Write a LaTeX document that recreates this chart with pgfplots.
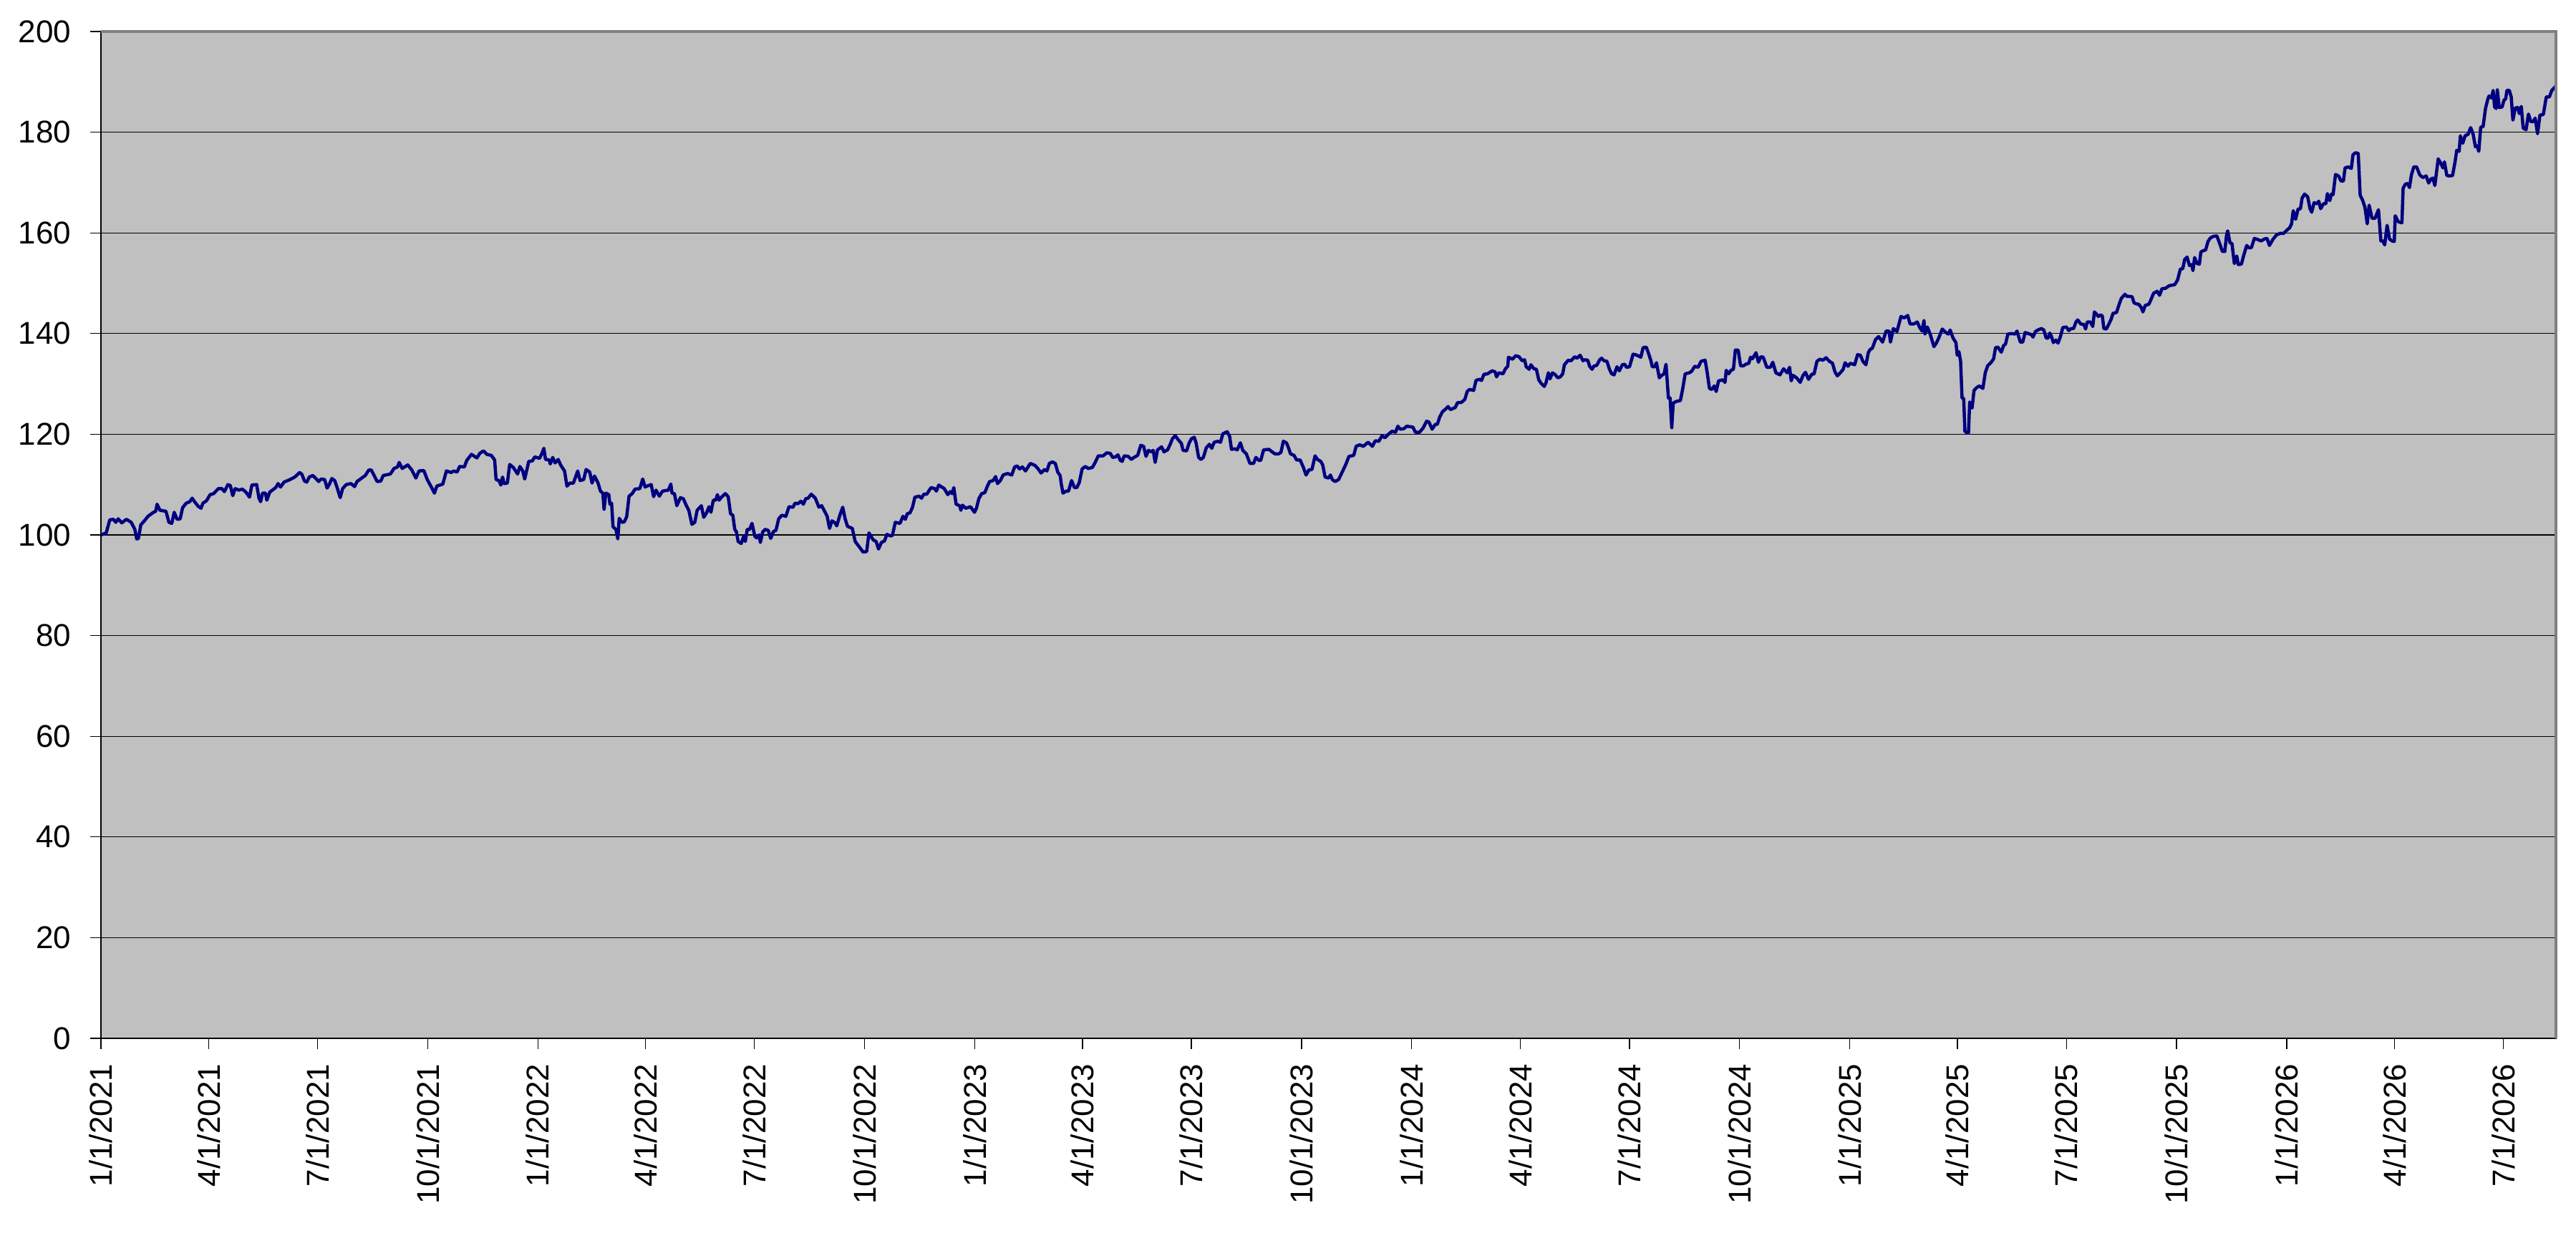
\documentclass[border=0pt]{standalone}
\usepackage{fontspec}
\setmainfont{Liberation Sans}
\usepackage{pgfplots}
\pgfplotsset{compat=1.18}
\definecolor{bgc}{HTML}{C0C0C0}
\definecolor{navyline}{HTML}{000080}
\definecolor{bordergray}{HTML}{808080}
\begin{document}
\begin{tikzpicture}
\begin{axis}[
  name=ax,
  scale only axis,
  width=685.8pt, height=281.2pt,
  xmin=0, xmax=2051, ymin=0, ymax=200,
  clip=false,
  axis background/.style={fill=bgc},
  axis line style={black, line width=0.3pt},
  ymajorgrids,
  grid style={black, line width=0.25pt},
  tick align=outside,
  major tick length=3pt,
  tick style={black, line width=0.25pt},
  xtick pos=left, ytick pos=left,
  ytick={0,20,...,200},
  xtick={0,90,181,273,365,455,546,638,730,820,911,1003,1095,1186,1277,1369,1461,1551,1642,1734,1826,1916,2007},
  xticklabels={1/1/2021,4/1/2021,7/1/2021,10/1/2021,1/1/2022,4/1/2022,7/1/2022,10/1/2022,1/1/2023,4/1/2023,7/1/2023,10/1/2023,1/1/2024,4/1/2024,7/1/2024,10/1/2024,1/1/2025,4/1/2025,7/1/2025,10/1/2025,1/1/2026,4/1/2026,7/1/2026},
  /pgf/number format/assume math mode=true,
  ticklabel style={font=\fontsize{8.8}{10}\selectfont, inner sep=0pt},
  xticklabel style={yshift=-4pt, rotate=90, anchor=east},
  yticklabel style={xshift=-5.2pt, anchor=east},
]
\addplot[navyline, line width=0.9pt, line join=round, mark=none] table[x=x, y=y] {
x y
0 100.0
4.4 100.4
7.4 103.0
10.4 103.1
12.4 102.5
14.4 103.2
17.4 102.4
21.3 103.1
25.3 102.5
28.3 101.1
29.9 99.2
31.3 99.3
33.3 102.0
36.3 102.8
39.3 103.7
43.3 104.4
45.7 104.7
46.9 106.1
49.3 104.9
54.3 104.7
56.8 102.5
59.2 102.3
61.2 104.5
63.6 103.1
66.2 103.2
68.2 105.4
71.2 106.3
74.2 106.6
76.2 107.3
78.2 106.6
81.2 105.7
83.6 105.3
85.2 106.3
88.2 106.8
91.2 108.0
94.1 108.2
98.1 109.2
101.1 109.2
103.1 108.6
106.1 110.0
108.1 109.8
110.1 107.8
112.1 109.2
115.1 108.9
118.1 109.1
121.1 108.5
124.1 107.5
126.1 109.9
130.1 110.0
132.0 107.3
133.4 106.6
135.0 108.3
137.4 108.3
138.6 106.9
141.0 108.5
146.0 109.4
148.0 110.2
150.0 109.5
153.0 110.5
158.0 111.0
162.0 111.5
166.0 112.4
168.0 112.0
170.0 110.7
172.0 110.5
174.0 111.5
177.0 111.8
180.0 111.1
181.9 110.6
183.9 111.1
186.9 111.0
188.9 109.3
190.9 110.1
192.9 111.2
195.3 110.8
197.3 109.4
199.9 107.4
201.9 109.2
204.9 110.0
208.9 110.2
211.9 109.6
213.9 110.6
217.9 111.3
220.8 111.8
223.8 112.9
225.8 112.9
227.8 112.0
230.8 110.6
233.8 110.7
235.8 111.8
241.8 112.1
244.8 113.2
247.8 113.5
249.1 114.4
251.7 113.2
256.3 113.9
259.7 112.9
263.1 111.3
265.7 112.7
269.7 112.8
272.6 111.0
275.6 109.7
278.6 108.3
280.6 109.7
285.6 110.1
288.6 112.7
292.6 112.4
294.6 112.7
297.6 112.5
299.6 113.6
303.6 113.5
305.6 114.8
309.5 116.0
314.1 115.3
316.5 116.2
319.5 116.7
322.5 116.0
326.1 115.8
328.9 114.9
330.1 111.0
332.5 110.8
334.1 109.9
335.5 111.5
336.9 110.2
339.5 110.3
341.5 114.0
344.5 113.4
348.1 112.1
350.0 113.6
352.4 112.7
354.0 111.1
357.4 114.6
360.4 114.7
362.4 115.5
366.4 115.2
368.4 116.2
370.0 117.2
371.4 115.0
374.4 114.9
375.4 114.1
377.4 115.4
379.4 114.3
382.0 115.0
384.0 113.9
387.3 112.7
389.3 109.7
391.9 110.3
394.7 110.3
398.3 112.7
400.3 110.8
403.3 111.0
405.3 113.0
408.3 112.5
410.3 110.3
412.3 111.7
415.3 110.3
417.3 108.7
419.3 108.3
420.3 105.1
421.8 108.3
424.3 108.0
425.2 106.1
426.6 106.3
427.8 101.6
430.2 101.1
431.8 99.2
433.0 103.3
435.2 102.5
437.2 102.6
439.2 103.6
441.2 107.7
443.8 108.2
446.2 109.1
450.2 109.2
452.6 111.1
454.6 109.5
456.2 109.7
459.7 110.0
461.7 107.6
463.7 108.9
466.5 107.7
469.1 108.7
474.1 108.9
476.1 110.1
477.1 108.3
479.1 108.2
481.1 105.8
484.1 107.4
486.5 107.2
489.1 105.8
491.1 104.9
493.7 102.1
496.1 102.5
498.1 104.9
501.6 105.8
503.6 103.5
506.0 104.4
508.0 105.6
509.6 104.5
511.6 106.9
513.6 106.9
515.0 108.0
516.4 106.9
518.4 107.5
521.6 108.2
524.0 107.6
526.0 104.2
527.9 103.9
529.5 101.1
530.9 100.6
532.3 98.7
534.9 98.3
536.9 99.7
538.3 98.7
539.9 101.1
541.9 101.1
543.9 102.3
546.3 99.7
547.9 99.4
549.9 100.0
550.9 98.5
552.9 100.6
554.9 101.1
557.5 100.9
559.5 99.3
561.9 100.7
563.9 100.9
566.2 103.2
568.8 103.9
572.2 103.7
574.8 105.6
578.2 105.5
579.8 106.3
582.2 106.2
584.8 106.7
586.8 106.1
588.8 107.2
590.8 107.3
593.4 108.1
596.8 107.3
599.8 105.5
602.1 105.8
604.1 104.9
606.7 103.7
608.7 101.3
610.7 102.8
613.3 102.4
614.7 101.8
617.3 103.9
619.7 105.5
621.7 103.2
623.7 101.7
627.7 101.3
630.1 98.7
633.3 97.7
636.7 96.6
639.7 96.7
641.6 100.4
645.2 99.0
647.6 98.7
649.6 97.2
652.0 98.5
654.6 98.8
656.6 100.1
659.6 99.8
661.2 99.9
663.6 102.5
667.6 102.3
670.0 103.7
672.0 103.1
673.6 104.2
676.0 104.4
678.0 105.5
680.0 107.5
683.5 107.7
685.5 107.3
687.5 108.1
689.9 108.1
693.5 109.4
696.5 109.2
697.9 108.7
699.9 109.9
704.5 109.2
707.5 108.0
709.5 108.6
711.1 108.2
712.5 109.4
714.4 106.1
717.4 105.8
718.4 104.9
719.8 105.9
722.4 105.3
726.4 105.6
729.8 104.5
731.4 105.3
733.4 107.2
735.8 108.2
738.4 108.4
740.4 109.6
742.4 110.6
745.4 110.8
747.4 111.6
749.0 110.2
751.4 110.8
753.7 111.9
757.3 112.2
760.9 111.9
763.3 113.5
765.4 113.7
767.4 113.1
769.8 113.5
772.4 112.7
776.4 114.2
780.4 113.8
783.0 113.1
785.4 112.3
788.3 113.0
790.3 112.7
792.3 114.2
794.9 114.5
797.3 114.2
799.3 112.5
801.3 111.8
802.3 110.1
803.7 108.3
806.3 108.7
808.3 108.7
810.9 110.8
813.3 109.4
815.3 109.4
817.3 110.4
819.7 113.1
822.3 113.6
824.8 113.2
828.2 113.4
830.2 114.2
833.2 115.7
837.2 115.7
840.2 116.3
843.2 116.2
845.2 115.4
847.6 115.5
849.6 115.9
851.6 114.8
853.2 114.6
854.8 115.7
858.2 115.6
860.7 115.0
863.1 115.4
866.1 115.8
868.7 117.8
871.1 117.6
873.1 115.6
875.1 116.8
877.5 116.5
879.1 116.8
880.7 114.4
882.7 116.9
886.1 117.5
888.1 116.5
891.1 116.9
893.5 118.1
895.1 119.1
897.5 119.7
900.0 118.9
902.6 118.2
904.0 116.8
907.0 116.7
909.0 118.2
911.0 119.1
913.4 119.4
915.0 118.2
917.0 115.4
919.0 115.0
921.0 115.4
923.4 117.3
926.0 118.0
928.0 117.2
930.0 118.4
933.0 118.6
935.3 118.4
937.3 120.1
940.9 120.5
942.9 119.6
944.5 117.0
947.3 117.1
949.3 116.9
951.9 118.3
953.9 116.8
956.9 116.1
959.9 114.2
962.9 114.2
964.9 115.4
967.3 114.8
968.9 114.8
971.3 116.9
975.8 117.0
978.4 116.5
980.8 116.1
983.8 116.1
985.8 116.4
987.8 118.6
990.4 118.3
991.8 117.5
993.8 116.1
996.8 115.8
998.8 114.9
1001.8 114.9
1004.4 113.5
1006.8 111.9
1009.1 112.9
1011.7 113.0
1014.3 115.7
1016.3 115.0
1019.1 114.6
1020.7 113.9
1022.7 111.5
1025.7 111.3
1027.1 111.9
1028.7 111.0
1031.0 110.6
1034.0 111.0
1037.0 112.5
1040.0 114.0
1042.6 115.6
1046.6 115.8
1048.6 117.6
1051.6 117.9
1054.6 117.6
1058.6 118.4
1062.2 117.6
1064.6 118.7
1067.6 118.6
1070.2 119.7
1072.6 119.3
1075.6 120.0
1078.6 120.6
1081.5 120.4
1083.5 121.6
1085.5 121.0
1088.5 121.1
1090.9 121.6
1093.5 121.5
1096.1 121.4
1098.1 120.4
1101.5 120.4
1104.5 121.2
1107.5 122.6
1109.5 122.4
1112.1 121.0
1114.5 121.9
1116.5 122.0
1118.4 123.4
1120.8 124.5
1123.4 125.0
1125.4 125.5
1127.4 124.9
1131.4 125.3
1133.4 126.3
1136.4 126.3
1139.4 126.9
1141.4 128.5
1143.4 128.9
1146.8 128.7
1148.8 130.7
1151.4 130.9
1153.4 130.7
1155.4 131.9
1158.3 132.0
1162.3 132.6
1164.7 132.4
1165.9 131.4
1167.9 132.2
1171.3 132.0
1173.3 133.0
1175.3 133.5
1175.9 135.3
1179.3 134.9
1181.9 135.6
1184.7 135.4
1187.3 134.6
1189.3 134.8
1190.7 133.4
1193.2 132.9
1194.6 133.8
1197.2 133.0
1199.2 132.9
1201.2 130.8
1203.2 130.1
1205.8 129.5
1207.2 130.2
1209.2 132.2
1210.6 131.0
1212.6 132.2
1214.6 131.9
1217.2 131.2
1219.2 131.4
1221.2 132.0
1222.6 133.8
1225.8 134.7
1228.2 134.6
1231.2 135.4
1233.1 135.1
1235.7 135.7
1238.1 134.6
1239.7 134.8
1242.1 134.7
1243.7 133.5
1245.7 132.9
1247.1 133.5
1249.7 133.7
1252.1 134.8
1253.7 135.1
1255.7 134.6
1258.1 134.5
1260.1 133.0
1262.1 132.0
1264.1 131.8
1266.5 133.4
1268.5 132.6
1271.0 133.8
1273.0 133.9
1274.4 133.3
1277.0 133.4
1280.0 135.9
1282.0 135.8
1285.0 135.5
1286.4 135.3
1288.4 137.2
1291.0 137.3
1293.0 136.0
1295.0 134.5
1296.0 133.4
1298.0 133.4
1299.5 134.2
1301.9 131.2
1303.9 131.7
1305.9 132.0
1307.5 133.9
1309.5 127.2
1310.9 127.2
1312.3 121.3
1313.5 126.2
1315.9 126.5
1319.5 126.7
1321.5 129.1
1323.5 132.0
1326.9 132.2
1328.9 132.5
1331.5 133.5
1334.3 133.3
1336.8 134.5
1340.2 134.7
1341.8 132.4
1343.8 129.1
1345.8 128.9
1347.8 129.6
1349.4 128.5
1351.4 130.6
1354.8 130.8
1356.8 130.3
1357.8 132.7
1359.8 132.0
1361.8 132.7
1363.8 132.9
1365.4 136.7
1367.8 136.7
1369.8 133.6
1372.2 133.6
1374.1 133.9
1376.7 134.1
1378.1 135.3
1379.7 135.0
1382.7 136.2
1384.7 134.3
1386.7 135.4
1388.7 135.3
1391.7 133.3
1394.7 133.3
1396.7 134.3
1399.3 132.2
1402.7 131.8
1405.7 133.0
1408.7 132.2
1410.7 133.3
1412.1 130.6
1413.6 131.7
1416.6 131.2
1419.6 130.3
1422.0 131.7
1424.0 132.3
1426.6 130.9
1429.2 131.9
1431.2 132.0
1433.6 134.5
1436.0 134.9
1438.6 134.7
1441.2 135.2
1443.9 134.5
1446.6 134.1
1448.6 132.4
1450.6 131.6
1453.1 132.2
1455.5 132.9
1457.1 134.2
1459.5 133.5
1461.5 134.1
1465.1 133.8
1467.5 135.8
1469.9 135.7
1471.9 134.5
1474.5 133.8
1476.5 136.2
1477.9 136.8
1479.9 137.1
1482.5 138.8
1485.1 139.4
1488.4 138.3
1491.4 140.5
1493.8 140.5
1495.0 138.3
1497.4 141.0
1500.4 140.4
1503.8 143.4
1506.4 143.1
1509.4 143.6
1511.4 141.9
1514.4 141.9
1517.4 142.3
1519.4 141.2
1521.4 140.5
1523.0 142.6
1523.8 139.9
1525.8 141.3
1528.3 139.8
1531.3 137.4
1533.3 138.1
1535.3 139.1
1538.3 140.9
1541.3 140.2
1543.3 139.9
1544.9 140.7
1547.3 139.1
1549.7 138.2
1550.8 135.7
1552.2 136.4
1553.6 134.5
1554.8 127.2
1556.2 127.1
1557.2 120.6
1558.8 120.3
1560.2 120.3
1561.2 126.4
1563.2 125.2
1564.8 128.7
1567.2 129.3
1569.2 129.6
1572.2 129.1
1574.2 132.2
1576.2 133.6
1579.2 134.3
1581.2 135.0
1582.8 137.2
1584.8 137.3
1587.6 136.3
1589.5 137.6
1591.1 137.9
1593.1 139.9
1596.1 140.0
1599.1 139.9
1600.7 140.5
1603.5 138.3
1605.5 138.3
1607.5 140.2
1610.1 140.0
1612.7 139.8
1614.1 139.3
1616.1 140.4
1618.1 140.7
1621.1 141.0
1623.1 140.7
1625.1 139.1
1626.7 139.1
1628.1 140.1
1629.5 139.4
1631.1 138.2
1633.1 138.7
1635.0 138.1
1637.0 139.4
1639.0 141.2
1642.0 141.3
1644.0 140.6
1646.0 141.0
1648.0 141.0
1650.0 142.3
1651.4 142.7
1654.0 141.9
1656.6 141.8
1658.0 140.9
1659.4 142.3
1662.0 142.3
1664.0 141.4
1665.4 144.3
1667.0 143.9
1668.6 143.4
1670.6 143.7
1672.0 143.5
1673.3 141.0
1675.3 140.9
1677.3 141.8
1679.3 142.8
1680.9 144.0
1683.9 144.2
1685.9 145.7
1687.9 147.0
1690.9 147.8
1692.5 147.4
1694.9 147.4
1696.9 147.3
1698.5 146.1
1700.5 145.9
1702.5 145.8
1704.5 145.2
1705.9 144.3
1707.9 145.6
1710.8 145.8
1712.4 146.6
1714.8 148.0
1717.8 148.4
1719.8 147.6
1721.8 148.9
1724.8 149.0
1727.8 149.5
1729.8 149.6
1732.4 149.7
1734.8 150.6
1737.2 152.8
1739.2 152.9
1740.8 154.7
1742.8 155.2
1744.8 153.5
1746.8 153.7
1747.7 152.5
1749.1 155.1
1751.1 153.9
1753.1 153.8
1754.3 156.2
1756.7 156.5
1758.3 156.6
1760.3 158.3
1762.3 159.0
1764.7 159.3
1767.7 159.4
1770.3 157.7
1772.3 156.3
1774.3 156.3
1775.7 159.4
1776.7 160.4
1778.7 158.0
1780.3 157.9
1782.3 153.9
1784.3 155.4
1785.6 153.7
1788.2 153.8
1790.2 155.6
1792.6 157.5
1794.6 157.0
1796.6 157.1
1799.0 158.9
1801.6 158.7
1804.6 158.4
1807.6 158.8
1809.6 158.9
1811.6 157.5
1814.5 158.7
1817.5 159.6
1820.5 159.9
1823.5 159.9
1825.5 160.4
1828.5 161.0
1830.1 161.8
1831.5 164.4
1833.5 162.7
1835.5 164.7
1837.5 164.8
1838.9 166.9
1840.9 167.7
1843.5 167.2
1845.5 164.8
1846.9 164.1
1848.9 166.0
1851.4 165.8
1852.8 166.3
1854.4 164.8
1856.8 165.8
1858.8 165.8
1860.0 167.8
1862.0 166.4
1863.4 167.7
1864.8 167.6
1866.8 171.6
1869.4 171.3
1871.4 170.3
1873.4 170.3
1874.8 172.9
1877.4 173.1
1880.0 172.8
1881.4 175.5
1883.4 175.9
1885.8 175.8
1887.4 167.5
1889.4 166.5
1891.4 165.1
1893.3 161.8
1894.9 165.5
1897.3 162.9
1899.9 162.9
1902.7 164.6
1904.7 158.4
1906.3 158.4
1907.9 157.6
1909.9 161.5
1911.9 158.8
1913.9 158.4
1915.9 158.3
1916.7 163.4
1919.3 162.2
1922.3 162.0
1923.3 168.9
1925.3 169.7
1927.2 169.8
1928.6 169.0
1930.2 171.5
1932.2 173.1
1934.6 173.1
1937.2 171.5
1939.8 171.0
1942.6 171.3
1944.6 169.9
1946.6 170.7
1948.2 170.9
1949.8 169.4
1952.6 174.7
1954.6 173.9
1956.6 172.9
1957.8 174.1
1959.8 171.4
1962.2 171.3
1964.6 171.4
1966.6 174.0
1968.1 176.4
1970.1 176.2
1971.1 179.3
1973.1 177.8
1975.1 179.3
1977.7 179.6
1979.7 180.9
1981.7 179.7
1983.7 177.1
1985.1 177.3
1986.5 176.2
1988.1 181.0
1990.1 181.1
1992.1 184.7
1994.1 186.6
1995.1 187.2
1997.1 186.8
1998.5 188.3
1999.7 185.0
2001.0 184.7
2002.0 188.4
2003.6 184.9
2006.0 185.0
2007.6 186.4
2009.0 186.6
2010.0 188.3
2012.0 188.3
2013.6 187.0
2015.0 182.4
2017.0 184.8
2019.0 184.9
2020.4 183.7
2022.0 185.1
2023.6 180.8
2026.0 180.5
2028.0 183.6
2030.0 182.1
2032.0 182.1
2033.6 182.8
2035.6 179.7
2037.6 183.4
2040.4 183.5
2042.9 187.0
2045.5 187.0
2047.5 188.3
2049.9 188.9
2051.0 189.2
};
\end{axis}
\draw[bordergray, line width=0.8pt] (ax.north west) -- (ax.north east) -- (ax.south east);
\pgfresetboundingbox
\path ([shift={(-28.2pt,-57.8pt)}]ax.south west) rectangle ([shift={(5.6pt,8.8pt)}]ax.north east);
\end{tikzpicture}
\end{document}
